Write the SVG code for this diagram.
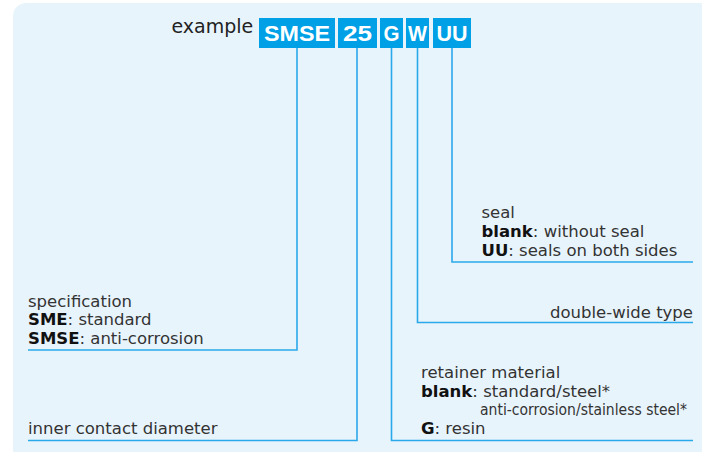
<svg xmlns="http://www.w3.org/2000/svg" width="702" height="452" viewBox="0 0 702 452">
<style>
.t{font-family:"DejaVu Sans","Liberation Sans",sans-serif;font-size:16.5px;fill:#333}
.b{font-weight:bold;fill:#111}
.s{font-family:"DejaVu Sans Condensed","DejaVu Sans",sans-serif;font-size:15px;fill:#333}
.box{fill:#00a0e6}
.bt{font-family:"Liberation Sans",Arial,sans-serif;font-weight:bold;font-size:22px;fill:#fff;text-anchor:middle}
.ln{fill:none;stroke:#2aa9ea;stroke-width:1.6}
</style>
<rect x="13" y="3" width="700" height="460" rx="13" fill="#e8f4fc"/>
<text class="t" x="171.5" y="33" style="font-size:19px;fill:#222">example</text>
<g id="code-smse"><rect class="box" x="259" y="18" width="76" height="30"/><text class="bt" x="297" y="41" textLength="66" lengthAdjust="spacingAndGlyphs">SMSE</text></g>
<g id="code-25"><rect class="box" x="338" y="18" width="39" height="30"/><text class="bt" x="357.5" y="41" textLength="29" lengthAdjust="spacingAndGlyphs">25</text></g>
<g id="code-g"><rect class="box" x="380" y="18" width="23" height="30"/><text class="bt" x="391.5" y="41" textLength="16" lengthAdjust="spacingAndGlyphs">G</text></g>
<g id="code-w"><rect class="box" x="406" y="18" width="23" height="30"/><text class="bt" x="417.5" y="41" textLength="19" lengthAdjust="spacingAndGlyphs">W</text></g>
<g id="code-uu"><rect class="box" x="433" y="18" width="38" height="30"/><text class="bt" x="452" y="41" textLength="31" lengthAdjust="spacingAndGlyphs">UU</text></g>
<g id="connectors">
<path class="ln" d="M297 48V350H28"/>
<path class="ln" d="M357 48V440.5H28"/>
<path class="ln" d="M391.5 48V440.5H693"/>
<path class="ln" d="M417.5 48V322.5H693"/>
<path class="ln" d="M452 48V262H693"/>
</g>
<g id="label-specification">
<text class="t" x="28" y="306.5">specification</text>
<text class="t" x="28" y="325"><tspan class="b">SME</tspan>: standard</text>
<text class="t" x="28" y="343.5"><tspan class="b">SMSE</tspan>: anti-corrosion</text>
</g>
<g id="label-diameter"><text class="t" x="28" y="434">inner contact diameter</text></g>
<g id="label-seal">
<text class="t" x="481.5" y="218">seal</text>
<text class="t" x="481.5" y="237"><tspan class="b">blank</tspan>: without seal</text>
<text class="t" x="481.5" y="255.5"><tspan class="b">UU</tspan>: seals on both sides</text>
</g>
<g id="label-double"><text class="t" x="693" y="318" text-anchor="end">double-wide type</text></g>
<g id="label-retainer">
<text class="t" x="421" y="377.5">retainer material</text>
<text class="t" x="421" y="396.5"><tspan class="b">blank</tspan>: standard/steel*</text>
<text class="s" x="480" y="414.5" textLength="207" lengthAdjust="spacingAndGlyphs">anti-corrosion/stainless steel*</text>
<text class="t" x="421" y="433.5"><tspan class="b">G</tspan>: resin</text>
</g>
</svg>
